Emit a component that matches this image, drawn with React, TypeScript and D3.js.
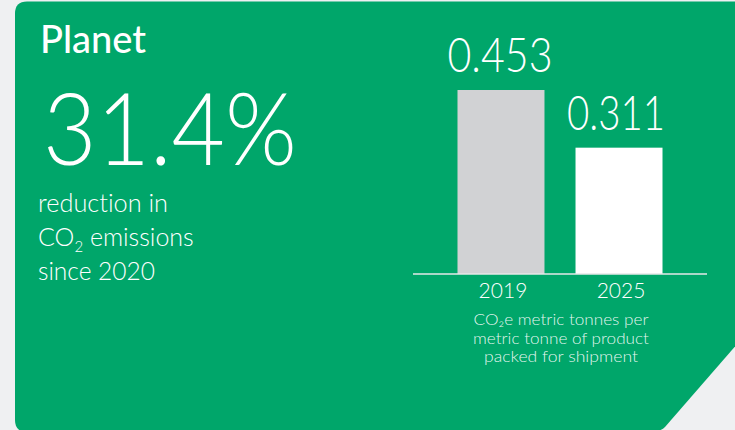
import React from "react";
import * as d3 from "d3";

const years = ["2019", "2025"];
const values = [0.453, 0.311];
const valueLabels = ["0.453", "0.311"];
const barColors = ["#d1d2d4", "#ffffff"];
const captionLines = ["CO₂e metric tonnes per", "metric tonne of product", "packed for shipment"];

const W = 735;
const H = 430;
const GREEN = "#00a66a";
const BG = "#eff0f2";
const FONT = "Lato, 'Open Sans', sans-serif";
const NOLIG = { fontVariantLigatures: "none" } as React.CSSProperties;

export default function App() {
  const baseline = 274;
  const x = d3
    .scaleBand<string>()
    .domain(years)
    .range([413, 707])
    .paddingInner(0.263)
    .paddingOuter(0.377);
  const y = d3
    .scaleLinear()
    .domain([0, d3.max(values) as number])
    .range([baseline, baseline - 184]);

  const card =
    "M27,1.5 H745 V335 L665,427 Q660,432 650,432 H27 Q15,432 15,420 V13.5 Q15,1.5 27,1.5 Z";

  const labelWidths = [105, 98];
  const labelShift = [-1, -3];
  const captionWidths = [175, 176, 154];

  return (
    <svg
      width={W}
      height={H}
      style={{ position: "absolute", left: 0, top: 0, display: "block", ...NOLIG }}
    >
      <rect x={0} y={0} width={W} height={H} fill={BG} />
      <path d={card} fill={GREEN} />
      <text
        x={40}
        y={53}
        fill="#fff"
        fontFamily={FONT}
        fontWeight={500}
        fontSize={38}
        textLength={106}
        lengthAdjust="spacingAndGlyphs"
      >
        Planet
      </text>
      <text
        x={43}
        y={165}
        fill="#fff"
        fontFamily={FONT}
        fontWeight={300}
        fontSize={101}
        textLength={254}
        lengthAdjust="spacingAndGlyphs"
      >
        31.4%
      </text>
      <g fill="#fff" fontFamily={FONT} fontWeight={300} fontSize={25}>
        <text x={38} y={212} textLength={130} lengthAdjust="spacingAndGlyphs">reduction in</text>
        <text x={38} y={246}>
          CO<tspan fontSize={15} dy={6}>2</tspan>
          <tspan dy={-6}> emissions</tspan>
        </text>
        <text x={38} y={280} textLength={117} lengthAdjust="spacingAndGlyphs">since 2020</text>
      </g>

      {years.map((yr, i) => (
        <g key={yr}>
          <rect
            x={x(yr)}
            y={y(values[i])}
            width={x.bandwidth()}
            height={baseline - y(values[i])}
            fill={barColors[i]}
          />
          <text
            x={(x(yr) as number) + x.bandwidth() / 2 + labelShift[i]}
            y={y(values[i]) - 18}
            textAnchor="middle"
            fill="#fff"
            fontFamily={FONT}
            fontWeight={300}
            fontSize={47}
            textLength={labelWidths[i]}
            lengthAdjust="spacingAndGlyphs"
          >
            {valueLabels[i]}
          </text>
          <text
            x={(x(yr) as number) + x.bandwidth() / 2 + 2}
            y={298}
            textAnchor="middle"
            fill="#fff"
            fontFamily={FONT}
            fontWeight={300}
            fontSize={21}
          >
            {yr}
          </text>
        </g>
      ))}
      <line x1={413} x2={707} y1={baseline} y2={baseline} stroke="#e6e7e8" strokeWidth={1.5} />

      <g fill="#fff" fillOpacity={0.9} fontFamily={FONT} fontWeight={300} fontSize={15} textAnchor="middle">
        {captionLines.map((t, i) => (
          <text
            key={t}
            x={561}
            y={325 + i * 18.5}
            textLength={captionWidths[i]}
            lengthAdjust="spacingAndGlyphs"
          >
            {t}
          </text>
        ))}
      </g>
    </svg>
  );
}
